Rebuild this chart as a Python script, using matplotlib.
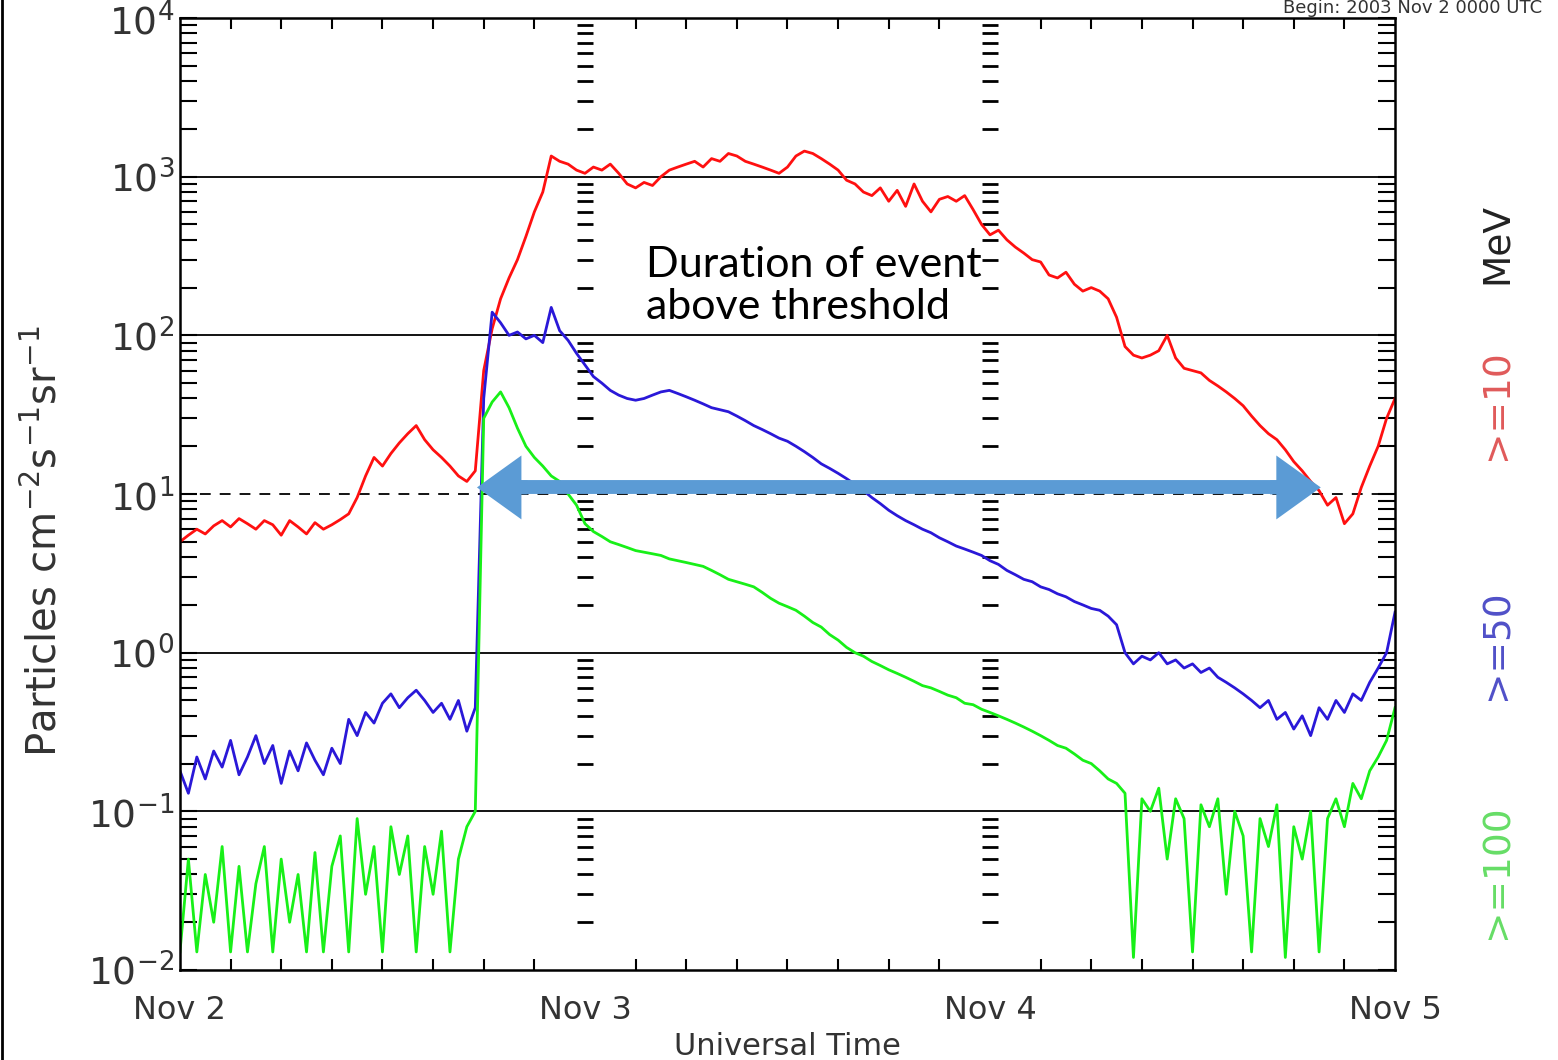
import numpy as np
import matplotlib.pyplot as plt
from matplotlib.lines import Line2D

# hours since 2003 Nov 2 00:00 UT, half-hour samples
hours = np.arange(0, 72.5, 0.5)

p10 = [5.0, 5.5, 6.0, 5.6, 6.3, 6.8, 6.2, 7.0, 6.5, 6.0, 6.8, 6.4, 5.5, 6.8, 6.2, 5.6,
       6.6, 6.0, 6.4, 6.9, 7.5, 9.5, 13, 17, 15, 18, 21, 24, 27, 22, 19, 17,
       15, 13, 12, 14, 60, 110, 170, 230, 300, 420, 600, 800, 1350, 1250, 1200, 1100,
       1050, 1150, 1100, 1200, 1050, 900, 850, 920, 880, 1000, 1100, 1150, 1200, 1250, 1150, 1300,
       1250, 1400, 1350, 1250, 1200, 1150, 1100, 1050, 1150, 1350, 1450, 1400, 1300, 1200, 1100, 950,
       900, 800, 760, 850, 700, 820, 650, 900, 700, 600, 720, 750, 700, 760, 620, 500,
       430, 460, 400, 360, 330, 300, 290, 240, 230, 250, 210, 190, 200, 190, 170, 130,
       85, 75, 72, 75, 80, 100, 72, 62, 60, 58, 52, 48, 44, 40, 36, 31,
       27, 24, 22, 19, 16, 14, 12, 10.5, 8.5, 9.5, 6.5, 7.5, 11, 15, 20, 30, 40]

p50 = [0.18, 0.13, 0.22, 0.16, 0.24, 0.19, 0.28, 0.17, 0.22, 0.30, 0.20, 0.26, 0.15, 0.24, 0.18, 0.27,
       0.21, 0.17, 0.25, 0.20, 0.38, 0.30, 0.42, 0.36, 0.48, 0.55, 0.45, 0.52, 0.58, 0.50, 0.42, 0.48,
       0.38, 0.50, 0.32, 0.45, 40, 140, 120, 100, 105, 95, 100, 90, 150, 107, 93, 77,
       65, 55, 50, 45, 42, 40, 39, 40, 42, 44, 45, 43, 41, 39, 37, 35,
       34, 33, 31, 29, 27, 25.5, 24, 22.5, 21.5, 20, 18.5, 17, 15.5, 14.5, 13.5, 12.5,
       11.5, 10.5, 9.5, 8.7, 7.9, 7.3, 6.8, 6.4, 6.0, 5.7, 5.3, 5.0, 4.7, 4.5, 4.3, 4.1,
       3.8, 3.6, 3.3, 3.1, 2.9, 2.8, 2.6, 2.5, 2.35, 2.25, 2.1, 2.0, 1.9, 1.85, 1.7, 1.5,
       1.0, 0.85, 0.95, 0.9, 1.0, 0.85, 0.9, 0.8, 0.85, 0.75, 0.8, 0.7, 0.65, 0.6, 0.55, 0.5,
       0.45, 0.5, 0.38, 0.42, 0.33, 0.4, 0.3, 0.45, 0.38, 0.5, 0.42, 0.55, 0.5, 0.65, 0.8, 1.0, 1.8]

p100 = [0.013, 0.05, 0.013, 0.04, 0.02, 0.06, 0.013, 0.045, 0.013, 0.035, 0.06, 0.013, 0.05, 0.02, 0.04, 0.013,
        0.055, 0.013, 0.045, 0.07, 0.013, 0.09, 0.03, 0.06, 0.013, 0.08, 0.04, 0.07, 0.013, 0.06, 0.03, 0.075,
        0.013, 0.05, 0.08, 0.1, 30, 38, 44, 35, 26, 20, 17, 15, 13, 12, 10, 8.5,
        6.5, 5.8, 5.4, 5.0, 4.8, 4.6, 4.4, 4.3, 4.2, 4.1, 3.9, 3.8, 3.7, 3.6, 3.5, 3.3,
        3.1, 2.9, 2.8, 2.7, 2.6, 2.4, 2.2, 2.05, 1.95, 1.85, 1.7, 1.55, 1.45, 1.3, 1.2, 1.08,
        1.0, 0.95, 0.88, 0.83, 0.78, 0.74, 0.70, 0.66, 0.62, 0.60, 0.57, 0.54, 0.52, 0.48, 0.47, 0.44,
        0.42, 0.40, 0.38, 0.36, 0.34, 0.32, 0.30, 0.28, 0.26, 0.25, 0.23, 0.21, 0.20, 0.18, 0.16, 0.15,
        0.13, 0.012, 0.12, 0.10, 0.14, 0.05, 0.12, 0.09, 0.013, 0.11, 0.08, 0.12, 0.03, 0.10, 0.07, 0.013,
        0.09, 0.06, 0.11, 0.012, 0.08, 0.05, 0.10, 0.013, 0.09, 0.12, 0.08, 0.15, 0.12, 0.18, 0.22, 0.28, 0.45]

day_ticks = [0, 24, 48, 72]
day_labels = ['Nov 2', 'Nov 3', 'Nov 4', 'Nov 5']
threshold = 10
event_start, event_end = 17.6, 67.6

fig = plt.figure(figsize=(15.58, 10.60), dpi=100)
ax = fig.add_axes([0.1155, 0.0849, 0.7799, 0.8981])

ax.plot(hours, p10, color='#ff1010', lw=2)
ax.plot(hours, p50, color='#2a18d8', lw=2)
ax.plot(hours, p100, color='#18f018', lw=2)

ax.set_yscale('log')
ax.set_ylim(1e-2, 1e4)
ax.set_xlim(0, 72)

# grid lines at decades, threshold dashed
for lev in [1e-1, 1e0, 1e2, 1e3]:
    ax.axhline(lev, color='k', lw=1.3, zorder=1)
ax.axhline(threshold, color='k', lw=1.3, ls=(0, (6, 5)), zorder=1)

ax.set_xticks(day_ticks)
ax.set_xticklabels(day_labels)
ax.set_xticks(np.arange(0, 73, 3), minor=True)
ax.tick_params(axis='x', which='major', length=0, pad=18, labelsize=23, labelcolor='#333333')
ax.tick_params(axis='x', which='minor', direction='in', length=8, width=1.5, top=True, bottom=True)
ax.set_yticks([1e-2, 1e-1, 1e0, 1e1, 1e2, 1e3, 1e4])
ax.set_yticklabels([r'$10^{-2}$', r'$10^{-1}$', r'$10^{0}$', r'$10^{1}$', r'$10^{2}$', r'$10^{3}$', r'$10^{4}$'])
ax.tick_params(axis='y', which='both', direction='in', length=12, width=1.5, left=True, right=True,
               labelsize=27, labelcolor='#333333', pad=4)
for s in ax.spines.values():
    s.set_linewidth(1.8)

# minor tick columns along the day boundaries
for d in [24, 48]:
    sec = ax.secondary_yaxis(d / 72)
    for s in sec.spines.values():
        s.set_visible(False)
    sec.tick_params(which='both', direction='inout', length=11, width=2, labelleft=False)
    sec.set_yticks([])

ax.set_xlabel('Universal Time', fontsize=22, color='#333333', labelpad=4)
ax.set_ylabel(r'Particles cm$^{-2}$s$^{-1}$sr$^{-1}$', fontsize=29, color='#333333')
ax.yaxis.set_label_coords(-0.094, 0.45)

# duration arrow: thick body plus two filled heads, on top of the data
ax.plot([event_start + 2, event_end - 2], [11, 11], color='#5b9bd5', lw=10,
        solid_capstyle='butt', zorder=10)
for x_end, x_from in [(event_start, event_start + 3), (event_end, event_end - 3)]:
    ax.annotate('', xy=(x_end, 11), xytext=(x_from, 11), zorder=11,
                arrowprops=dict(arrowstyle='simple,head_length=1.6,head_width=2.3,tail_width=0.5',
                                color='#5b9bd5', lw=0, shrinkA=0, shrinkB=0, mutation_scale=20))
ax.text(27.6, 205, 'Duration of event\nabove threshold', fontsize=31, family='Lato',
        va='center', ha='left', linespacing=1.15)

# channel labels on the right
fig.text(0.961, 0.77, 'MeV', rotation=90, fontsize=27, color='#222222', ha='center', va='center')
fig.text(0.961, 0.618, '>=10', rotation=90, fontsize=27, color='#e05a5a', ha='center', va='center')
fig.text(0.961, 0.392, '>=50', rotation=90, fontsize=27, color='#5050c8', ha='center', va='center')
fig.text(0.961, 0.178, '>=100', rotation=90, fontsize=27, color='#66dd66', ha='center', va='center')

fig.text(0.99, 0.992, 'Begin: 2003 Nov 2 0000 UTC', fontsize=13, color='#333333', va='center', ha='right')
fig.add_artist(Line2D([0.001, 0.001], [0, 1], transform=fig.transFigure, color='k', lw=2))

fig.savefig('out.png', dpi=100)
